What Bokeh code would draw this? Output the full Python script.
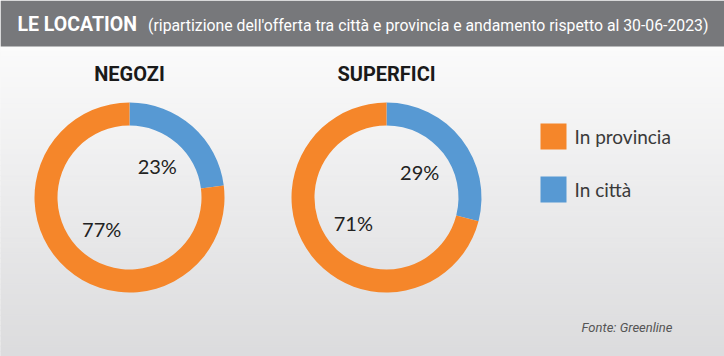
import numpy as np
from bokeh.plotting import figure
from bokeh.models import Range1d
from bokeh.core.properties import value
from bokeh.embed import file_html
from bokeh.resources import INLINE

# ---- data ----
categories = ["In provincia", "In città"]
chart_titles = ["NEGOZI", "SUPERFICI"]
negozi = [77, 23]
superfici = [71, 29]
series = [negozi, superfici]
title_main = "LE LOCATION"
title_sub = "(ripartizione dell'offerta tra città e provincia e andamento rispetto al 30-06-2023)"
source_note = "Fonte: Greenline"

# ---- style / layout ----
W, H = 724, 356
colors = ["#f5862a", "#5799d3"]
header_h = 46
centers_x = [129, 386]
center_y_px = 197
r_out, r_in = 95, 72
cond_font = "Roboto"
body_font = "Lato"


def Y(ypx):
    return H - ypx


p = figure(width=W, height=H, x_range=Range1d(0, W), y_range=Range1d(0, H),
           toolbar_location=None, output_backend="svg", min_border=0)
p.axis.visible = False
p.grid.visible = False
p.outline_line_color = None
p.background_fill_color = "#f2f2f2"
p.border_fill_color = "#f2f2f2"

# background gradient (top light -> bottom darker)
n = 60
edges = np.linspace(header_h, H, n + 1)
top_c = np.array([251, 251, 251])
bot_c = np.array([220, 220, 222])
cols = []
for i in range(n):
    t = i / (n - 1)
    c = (top_c * (1 - t) + bot_c * t).astype(int)
    cols.append("#%02x%02x%02x" % tuple(c))
p.quad(left=0, right=W, top=[Y(e) for e in edges[:-1]], bottom=[Y(e) for e in edges[1:]],
       fill_color=cols, line_color=cols, line_width=1)

# header bar
p.quad(left=0, right=W, top=H, bottom=Y(header_h), fill_color="#77787b", line_color=None)
p.text(x=[17], y=[Y(24)], text=[title_main], text_color="white", text_font=value(cond_font),
       text_font_style="bold", text_font_size="19.5px", text_baseline="middle")
p.text(x=[708], y=[Y(25)], text=[title_sub], text_color="white", text_font=value(cond_font),
       text_font_size="15.8px", text_baseline="middle", text_align="right")

# donuts
for k, vals in enumerate(series):
    cx = centers_x[k]
    cy = Y(center_y_px)
    total = float(sum(vals))
    order = [1, 0]  # city segment starts at 12 o'clock, clockwise
    start = np.pi / 2
    for idx in order:
        frac = vals[idx] / total
        end = start - frac * 2 * np.pi
        p.annular_wedge(x=[cx], y=[cy], inner_radius=r_in, outer_radius=r_out,
                        start_angle=[start], end_angle=[end], direction="clock",
                        fill_color=colors[idx], line_color=None)
        mid = (start + end) / 2
        lr = 42
        p.text(x=[cx + lr * np.cos(mid)], y=[cy + lr * np.sin(mid)],
               text=["%d%%" % vals[idx]], text_font=value(body_font),
               text_font_size="20px", text_color="#222222",
               text_align="center", text_baseline="middle")
        start = end
    p.text(x=[cx], y=[Y(73)], text=[chart_titles[k]], text_font=value(cond_font),
           text_font_style="bold", text_font_size="20px", text_color="#1a1a1a",
           text_align="center", text_baseline="middle")

# legend
leg_y = [136, 189]
for i, cat in enumerate(categories):
    p.rect(x=[553], y=[Y(leg_y[i])], width=26, height=26, fill_color=colors[i], line_color=None)
    p.text(x=[574], y=[Y(leg_y[i])], text=[cat], text_font=value(body_font),
           text_font_size="19px", text_color="#3a3a3a", text_baseline="middle")

# source
p.text(x=[672], y=[Y(327)], text=[source_note], text_font=value(cond_font),
       text_font_style="italic", text_font_size="13px", text_color="#555555",
       text_align="right", text_baseline="middle")

open("out.html", "w").write(file_html(p, INLINE))
